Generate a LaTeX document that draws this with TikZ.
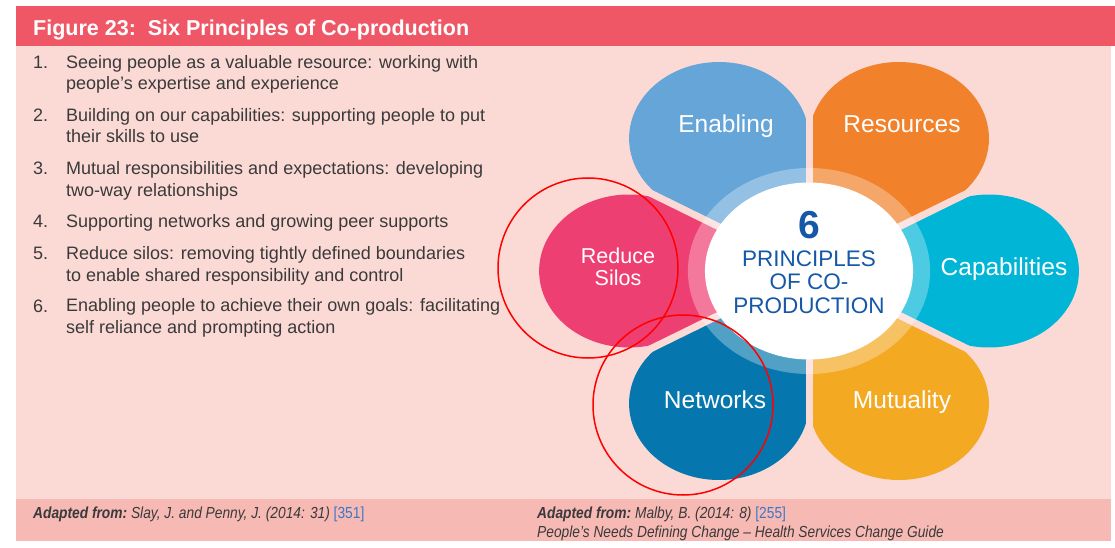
\documentclass[tikz,border=0pt]{standalone}
\usepackage{fontspec}
\setmainfont{Liberation Sans}
\newfontfamily\footfont{Liberation Sans}[FakeStretch=0.86]
\usepackage{xcolor}
\usepackage{tikz}
\usetikzlibrary{positioning}
\definecolor{headRed}{RGB}{239,87,102}
\definecolor{panelPink}{RGB}{251,218,214}
\definecolor{footPink}{RGB}{247,185,180}
\definecolor{enablingBlue}{RGB}{101,165,216}
\definecolor{resourcesOrange}{RGB}{241,129,42}
\definecolor{capabilitiesCyan}{RGB}{0,181,214}
\definecolor{mutualityYellow}{RGB}{244,169,34}
\definecolor{networksBlue}{RGB}{6,119,174}
\definecolor{silosPink}{RGB}{238,63,114}
\definecolor{centreBlue}{RGB}{22,88,168}
\definecolor{textGray}{RGB}{58,58,58}
\definecolor{refBlue}{RGB}{60,120,195}

% one petal: angle, colour (circle of radius d/2 at distance d, 60 deg tip)
\newcommand{\drawPetal}[2]{%
  \fill[#2] (0,0) -- (#1-30:132.5)
    arc[start angle=#1-120, end angle=#1+120, radius=76.5] -- cycle;}

\begin{document}
\begin{tikzpicture}[x=1pt, y=1pt, inner sep=0pt,
  entry/.style={anchor=base west, align=left, text=textGray,
                font=\fontsize{18}{21.3}\selectfont},
  num/.style={anchor=base west, text=textGray, font=\fontsize{18}{21.3}\selectfont},
  petalText/.style={anchor=base, text=white, align=center,
                    font=\fontsize{24.5}{22}\selectfont},
  centreText/.style={anchor=base, text=centreBlue, font=\fontsize{22.5}{23}\selectfont},
  source/.style={anchor=base west, text=textGray, font=\footfont\itshape\fontsize{16}{18}\selectfont},
  mark circle/.style={draw=red, line width=1.5pt}
]
\useasboundingbox (0,0) rectangle (1115,-548);

% Panels
\fill[panelPink] (16,-46) rectangle (1111,-499);
\fill[headRed] (16,-6) rectangle (1115,-46);
\fill[footPink] (16,-499) rectangle (1111,-541);

% Title
\node[anchor=base west, text=white, font=\bfseries\fontsize{21.5}{24}\selectfont]
  (title) at (33,-36) {Figure 23:\ \ Six Principles of Co-production};

% List of principles (two-line entries sit on their last baseline)
\node[num] (n1) at (33,-69) {1.};
\node[entry] (p1) at (66,-90) {Seeing people as a valuable resource: working with\\people’s expertise and experience};
\node[num] (n2) at (33,-122) {2.};
\node[entry] (p2) at (66,-143) {Building on our capabilities: supporting people to put\\their skills to use};
\node[num] (n3) at (33,-175) {3.};
\node[entry] (p3) at (66,-196) {Mutual responsibilities and expectations: developing\\two-way relationships};
\node[num] (n4) at (33,-227) {4.};
\node[entry] (p4) at (66,-227) {Supporting networks and growing peer supports};
\node[num] (n5) at (33,-259) {5.};
\node[entry] (p5) at (66,-281) {Reduce silos: removing tightly defined boundaries\\to enable shared responsibility and control};
\node[num] (n6) at (33,-312) {6.};
\node[entry] (p6) at (66,-333) {Enabling people to achieve their own goals: facilitating\\self reliance and prompting action};

% Flower
\begin{scope}[shift={(809,-271)}, xscale=1.176]
  \drawPetal{0}{capabilitiesCyan}
  \drawPetal{60}{resourcesOrange}
  \drawPetal{120}{enablingBlue}
  \drawPetal{180}{silosPink}
  \drawPetal{240}{networksBlue}
  \drawPetal{300}{mutualityYellow}
  % gaps between petals
  \foreach \a in {30,90,...,330}
    \draw[panelPink, line width=7pt] (0,0) -- (\a:212);
  \fill[white, opacity=0.3] (0,0) circle[radius=103];
  \fill[white] (0,0) circle[radius=88.5];
\end{scope}

% Petal labels
\node[petalText] (enabling) at (726,-133) {Enabling};
\node[petalText] (resources) at (902,-133) {Resources};
\node[petalText] (capabilities) at (1004,-275) {Capabilities};
\node[petalText, font=\fontsize{21.5}{22}\selectfont] (silos) at (618,-285) {Reduce\\Silos};
\node[petalText] (networks) at (715,-408) {Networks};
\node[petalText] (mutuality) at (902,-408) {Mutuality};

% Centre
\node[centreText, font=\bfseries\fontsize{39}{40}\selectfont] (six) at (809,-238) {6};
\node[centreText] (c1) at (809,-266) {PRINCIPLES};
\node[centreText] (c2) at (809,-289.5) {OF CO-};
\node[centreText] (c3) at (809,-313) {PRODUCTION};

% Marked petals
\draw[mark circle] (588,-268) circle[radius=90];
\draw[mark circle] (683,-405) circle[radius=90];

% Sources
\node[source] (srcA) at (33,-518) {\bfseries Adapted from:\ \mdseries Slay, J. and Penny, J. (2014: 31) \textcolor{refBlue}{\upshape[351]}};
\node[source] (srcB) at (537,-518) {\bfseries Adapted from:\ \mdseries Malby, B. (2014: 8) \textcolor{refBlue}{\upshape[255]}};
\node[source] (guide) at (537,-537) {People’s Needs Defining Change – Health Services Change Guide};

\end{tikzpicture}
\end{document}
